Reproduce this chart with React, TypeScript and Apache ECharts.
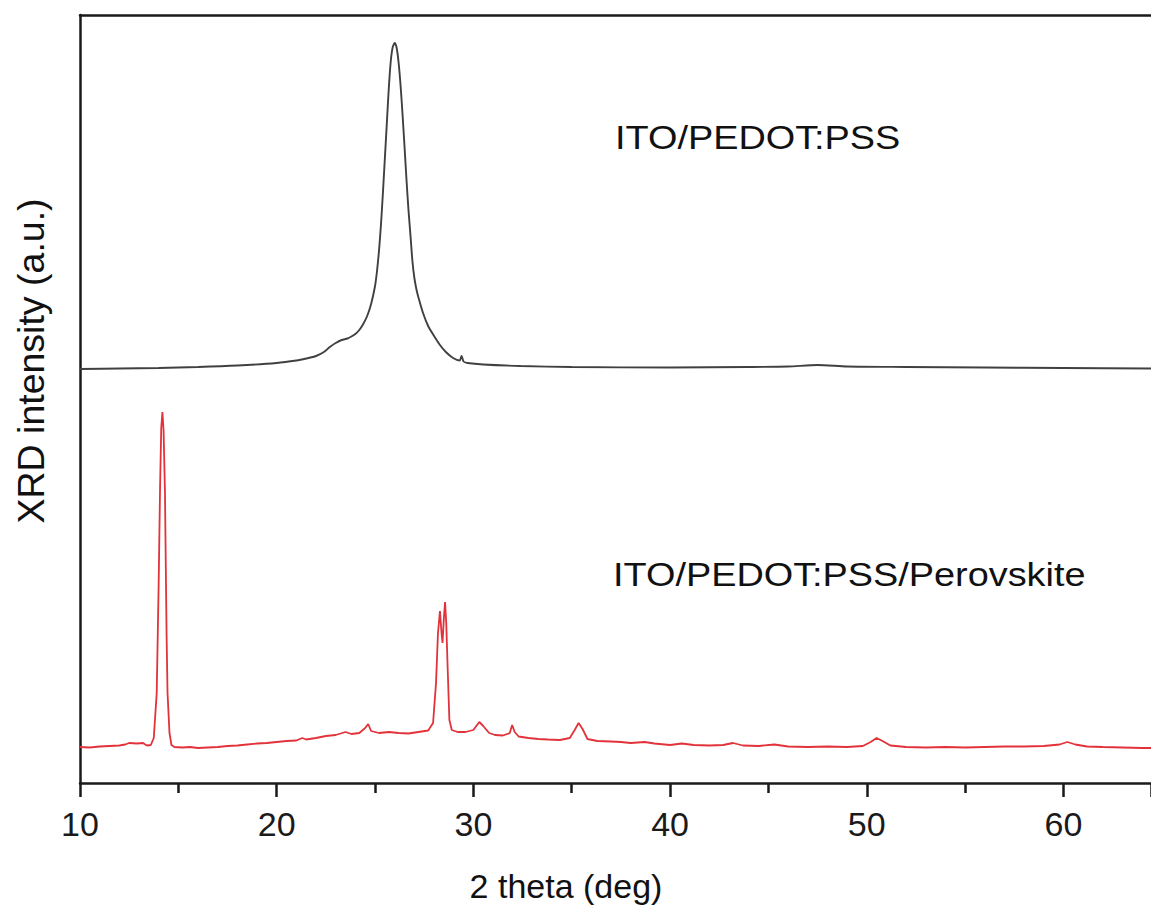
import React, { useEffect, useRef } from "react";
import * as echarts from "echarts";

// 2θ (deg) and intensity (a.u., vertical offset of the stacked pattern included)
const blackTheta = [10, 12, 14, 16, 18, 20, 21, 21.5, 22.0, 22.4, 22.7, 23.0, 23.3, 23.6, 23.8, 24.0, 24.2, 24.4, 24.6, 24.8, 25.0, 25.1, 25.2, 25.3, 25.4, 25.5, 25.6, 25.7, 25.8, 25.9, 26.0, 26.1, 26.2, 26.3, 26.4, 26.5, 26.6, 26.7, 26.8, 26.9, 27.0, 27.1, 27.2, 27.44, 27.7, 28.0, 28.3, 28.6, 28.97, 29.3, 29.4, 29.5, 29.7, 30.5, 32.4, 35, 40, 44, 46, 47.5, 49, 52, 56, 60, 64.45];
const blackValues = [414, 414.5, 415, 416, 417.5, 420, 422.5, 424.5, 427, 431, 436, 440, 443, 444.5, 446.5, 449, 453, 459, 467, 479, 497, 512, 532, 558, 590, 625, 660, 695, 722, 736, 740, 735, 720, 697, 668, 636, 603, 573, 548, 522, 505, 494, 486, 470, 457, 447, 438, 431, 425, 422.5, 427, 421.5, 420, 418.5, 417, 416, 415.5, 416, 416.5, 418, 416.5, 416, 415.5, 415, 414.5];

const redTheta = [10, 10.5, 11, 11.5, 12, 12.3, 12.5, 12.9, 13.2, 13.4, 13.6, 13.75, 13.9, 14.0, 14.07, 14.13, 14.19, 14.25, 14.32, 14.4, 14.45, 14.55, 14.65, 14.8, 15.2, 15.6, 16, 16.5, 17, 17.5, 18, 18.5, 19, 19.5, 20, 20.5, 21, 21.3, 21.5, 22, 22.5, 23, 23.5, 23.8, 24.2, 24.5, 24.65, 24.8, 25.2, 25.7, 26.2, 26.7, 27.2, 27.7, 27.95, 28.1, 28.2, 28.3, 28.38, 28.43, 28.5, 28.56, 28.62, 28.7, 28.78, 28.9, 29.2, 29.6, 30.0, 30.3, 30.5, 30.8, 31.1, 31.5, 31.85, 31.97, 32.1, 32.3, 32.8, 33.3, 33.8, 34.4, 34.9, 35.15, 35.35, 35.55, 35.8, 36.3, 37, 37.5, 38, 38.7, 39.2, 40, 40.6, 41.2, 42, 42.7, 43.2, 43.7, 44.5, 45.3, 46, 47, 48, 49, 49.8, 50.2, 50.5, 50.8, 51.2, 52, 53, 54, 55, 56, 57, 58, 59, 59.8, 60.2, 60.6, 61.2, 62, 63, 64, 64.45];
const redValues = [36, 35.5, 36.5, 37, 37.5, 38.5, 40, 39.5, 40, 37.5, 38, 45, 90, 200, 295, 355, 371, 352, 290, 150, 90, 50, 38, 36, 35.5, 36, 35, 35.5, 36, 37, 37.5, 38.5, 39.5, 40, 41, 42, 42.5, 45, 43.5, 45, 47, 48, 51, 49, 50, 55, 59, 52, 50, 51, 50, 49.5, 51, 52.5, 60, 100, 150, 172, 150, 140, 165, 181, 160, 110, 63, 53, 51, 51, 53, 61, 57, 50, 48, 47.5, 50, 58, 51, 46.5, 45, 44, 43.5, 43, 45, 53, 60, 54, 44, 42, 41.5, 41, 40, 41, 39.5, 38, 39.5, 38, 37.5, 38, 40, 37.5, 37, 38.5, 36.5, 36, 36.5, 36, 37, 41, 45, 42, 37.5, 36, 35.5, 36, 35.5, 36, 36.5, 36.5, 37, 38.5, 41, 38.5, 36.5, 36, 35.5, 35, 35];

const xTickLabels = ["10", "20", "30", "40", "50", "60"];
const seriesNames = ["ITO/PEDOT:PSS", "ITO/PEDOT:PSS/Perovskite"];
const xTitle = "2 theta (deg)";
const yTitle = "XRD intensity (a.u.)";

const FONT = "'Liberation Sans', Arial, Helvetica, sans-serif";
const AXIS = "#1a1a1a";
const X_MIN = 10;
const X_MAX = 64.45; // the original frame is cut off at the right edge

export default function App() {
  const ref = useRef<HTMLDivElement>(null);
  useEffect(() => {
    if (!ref.current) return;
    const chart = echarts.init(ref.current, null, { renderer: "svg" });
    const black = blackTheta.map((t, i) => [t, blackValues[i]]);
    const red = redTheta.map((t, i) => [t, redValues[i]]);
    chart.setOption({
      animation: false,
      backgroundColor: "#ffffff",
      grid: { left: 80, top: 15, right: 0, bottom: 132, show: false },
      xAxis: [
        {
          type: "value",
          min: X_MIN,
          max: X_MAX,
          interval: 10,
          axisLine: { show: true, onZero: false, lineStyle: { color: AXIS, width: 2.5 } },
          axisTick: { show: true, inside: false, length: 14, lineStyle: { color: AXIS, width: 2.5 } },
          minorTick: { show: true, splitNumber: 2, length: 10, lineStyle: { color: AXIS, width: 2.5 } },
          splitLine: { show: false },
          axisLabel: {
            margin: 24,
            fontSize: 34,
            color: AXIS,
            fontFamily: FONT,
            showMaxLabel: false,
            formatter: (v: number) => (xTickLabels.includes(String(v)) ? String(v) : ""),
          },
        },
        {
          type: "value",
          position: "top",
          min: X_MIN,
          max: X_MAX,
          interval: 10,
          axisLine: { show: true, onZero: false, lineStyle: { color: AXIS, width: 2.5 } },
          axisTick: { show: false },
          axisLabel: { show: false },
          splitLine: { show: false },
        },
      ],
      yAxis: {
        type: "value",
        min: 0,
        max: 768,
        axisLine: { show: true, onZero: false, lineStyle: { color: AXIS, width: 2.5 } },
        axisTick: { show: false },
        axisLabel: { show: false },
        splitLine: { show: false },
      },
      series: [
        {
          name: seriesNames[0],
          type: "line",
          xAxisIndex: 0,
          data: black,
          showSymbol: false,
          symbol: "none",
          smooth: 0.25,
          lineStyle: { color: "#404040", width: 1.9 },
        },
        {
          name: seriesNames[1],
          type: "line",
          xAxisIndex: 0,
          data: red,
          showSymbol: false,
          symbol: "none",
          smooth: false,
          lineStyle: { color: "#e2323a", width: 1.8 },
        },
      ],
      graphic: [
        {
          type: "text",
          x: 615,
          y: 137,
          scaleX: 1.165,
          style: { text: seriesNames[0], fontSize: 32.5, fontFamily: FONT, fill: "#111", align: "left", verticalAlign: "middle" },
        },
        {
          type: "text",
          x: 613,
          y: 574,
          scaleX: 1.165,
          style: { text: seriesNames[1], fontSize: 32.5, fontFamily: FONT, fill: "#111", align: "left", verticalAlign: "middle" },
        },
        {
          type: "text",
          x: 566,
          y: 886,
          style: { text: xTitle, fontSize: 34, fontFamily: FONT, fill: "#111", align: "center", verticalAlign: "middle" },
        },
        {
          type: "text",
          x: 31,
          y: 361,
          rotation: Math.PI / 2,
          style: { text: yTitle, fontSize: 37.5, fontFamily: FONT, fill: "#111", align: "center", verticalAlign: "middle" },
        },
      ],
    });
    return () => chart.dispose();
  }, []);
  return <div ref={ref} style={{ position: "absolute", left: 0, top: 0, width: 1151, height: 915 }} />;
}
